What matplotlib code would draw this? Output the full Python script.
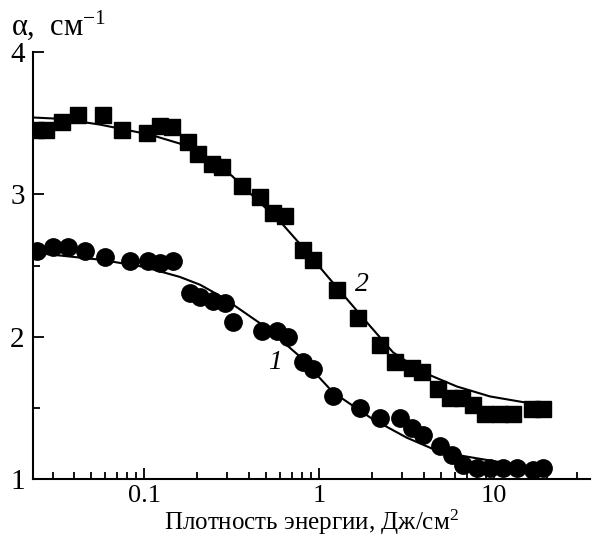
import numpy as np
import matplotlib
matplotlib.use("Agg")
import matplotlib.pyplot as plt
from matplotlib.ticker import FixedLocator, NullFormatter

plt.rcParams['font.family'] = ['Liberation Serif', 'DejaVu Serif']
plt.rcParams['mathtext.fontset'] = 'custom'
plt.rcParams['mathtext.rm'] = 'Liberation Serif'
plt.rcParams['mathtext.it'] = 'Liberation Serif:italic'

# Кривая 2 (квадраты)
x2 = [0.024, 0.0275, 0.034, 0.042, 0.058, 0.075, 0.104, 0.123, 0.145, 0.178,
      0.204, 0.245, 0.279, 0.363, 0.46, 0.546, 0.64, 0.81, 0.92, 1.27,
      1.67, 2.23, 2.72, 3.4, 3.9, 4.8, 5.6, 6.6, 7.6, 8.9,
      10.8, 12.8, 16.5, 19.1]
y2 = [3.45, 3.45, 3.51, 3.56, 3.56, 3.45, 3.43, 3.48, 3.47, 3.37,
      3.28, 3.21, 3.19, 3.06, 2.98, 2.87, 2.85, 2.61, 2.54, 2.33,
      2.13, 1.94, 1.82, 1.78, 1.75, 1.63, 1.57, 1.57, 1.52, 1.46,
      1.46, 1.46, 1.49, 1.49]

# Кривая 1 (кружки)
x1 = [0.0245, 0.0302, 0.0368, 0.046, 0.06, 0.083, 0.105, 0.123, 0.1465, 0.183,
      0.209, 0.248, 0.29, 0.323, 0.472, 0.575, 0.665, 0.811, 0.924, 1.2,
      1.71, 2.23, 2.9, 3.4, 3.93, 4.91, 5.75, 6.65, 8.0, 9.49,
      11.3, 13.5, 16.7, 19.1]
y1 = [2.60, 2.63, 2.63, 2.60, 2.56, 2.53, 2.53, 2.52, 2.53, 2.31,
      2.28, 2.25, 2.24, 2.10, 2.04, 2.04, 2.00, 1.82, 1.77, 1.58,
      1.50, 1.43, 1.43, 1.36, 1.31, 1.23, 1.17, 1.10, 1.08, 1.08,
      1.08, 1.08, 1.06, 1.08]

# Аппроксимирующие кривые
fx2 = [0.0232, 0.034, 0.056, 0.108, 0.167, 0.238, 0.318, 0.443, 0.599, 0.82,
       1.2, 1.88, 2.65, 3.93, 6.14, 9.5, 14.7, 20.1]
fy2 = [3.54, 3.53, 3.49, 3.42, 3.35, 3.25, 3.13, 2.96, 2.81, 2.62,
       2.38, 2.10, 1.89, 1.75, 1.65, 1.58, 1.54, 1.535]
fx1 = [0.0232, 0.057, 0.1, 0.16, 0.209, 0.26, 0.323, 0.505, 0.779, 1.2,
       2.03, 3.18, 4.91, 7.58, 11.9, 18.3, 20.5]
fy1 = [2.59, 2.54, 2.49, 2.42, 2.365, 2.30, 2.225, 2.06, 1.86, 1.61,
       1.42, 1.29, 1.19, 1.15, 1.11, 1.08, 1.075]

fig = plt.figure(figsize=(5.95, 5.38), dpi=100)
ax = fig.add_axes([0.0555, 0.1097, 0.936, 0.7936])

ax.plot(fx2, fy2, color='black', lw=1.5, zorder=2)
ax.plot(fx1, fy1, color='black', lw=1.5, zorder=2)
ax.plot(x2, y2, 's', color='black', ms=11.5, zorder=3)
ax.plot(x1, y1, 'o', color='black', ms=12.5, zorder=3)

ax.set_xscale('log')
ax.set_xlim(0.0232, 35.4)
ax.set_ylim(1, 4)

ax.spines['top'].set_visible(False)
ax.spines['right'].set_visible(False)
ax.spines['left'].set_linewidth(1.5)
ax.spines['bottom'].set_linewidth(1.5)

ax.set_xticks([0.1, 1, 10])
ax.set_xticklabels(['0.1', '1', '10'])
ax.xaxis.set_minor_locator(FixedLocator(
    [m * 10.0 ** e for e in range(-2, 2) for m in range(2, 10)]))
ax.xaxis.set_minor_formatter(NullFormatter())
ax.set_yticks([1, 2, 3, 4])
ax.set_yticks([1.5, 2.5, 3.5], minor=True)

ax.tick_params(which='both', direction='in', width=1.3)
ax.tick_params(which='major', length=8)
ax.tick_params(which='minor', length=5)
ax.tick_params(axis='x', labelsize=19, pad=4)
ax.tick_params(axis='y', labelsize=21, pad=6)

ax.set_xlabel('Плотность энергии, Дж/см$^2$', fontsize=18, labelpad=1)
fig.text(0.018, 0.935, 'α,  см$^{-1}$', fontsize=22, ha='left', va='baseline')

ax.text(0.56, 1.82, '1', fontsize=20, style='italic', ha='center', va='center')
ax.text(1.76, 2.37, '2', fontsize=20, style='italic', ha='center', va='center')

fig.savefig('out.png', dpi=100)
